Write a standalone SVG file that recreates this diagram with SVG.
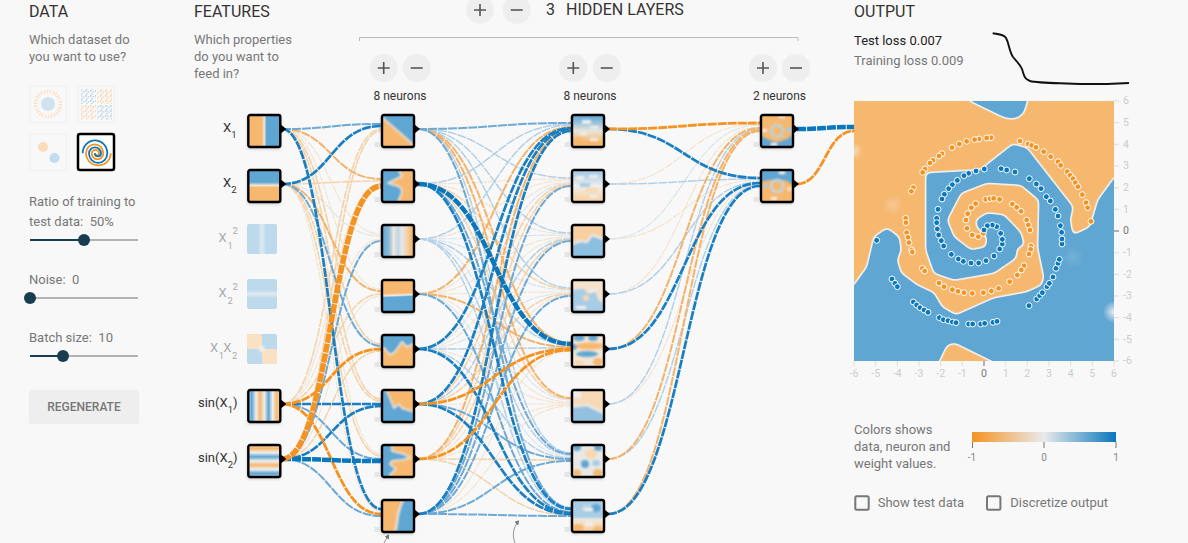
<svg xmlns="http://www.w3.org/2000/svg" width="1188" height="543" viewBox="0 0 1188 543">
<style>
text{font-family:Roboto,"Liberation Sans",sans-serif;white-space:pre}
.h{font-size:16px;fill:#333}
.t{font-size:13px;fill:#777}
.f{font-size:13px;fill:#333}
.fo{font-size:13px;fill:#aaa}
.s{font-size:9.500px}
.n{font-size:12px;fill:#333;text-anchor:middle}
.ax{font-size:10.500px;fill:#ccc}
.axm{font-size:10.500px;fill:#ccc;text-anchor:middle}
.tick{stroke:#ddd;stroke-width:1;fill:none}
.btn{fill:#eee}
.ic{stroke:#555;stroke-width:1.600;fill:none}
.track{stroke:#b3b3b3;stroke-width:2}
.fill{stroke:#183d4e;stroke-width:2}
.thumb{fill:#183d4e}
.cb{fill:none;stroke:#777;stroke-width:2}
#links path{fill:none;stroke-dasharray:9 1}
.b1 path{stroke:#d9e5ee;stroke-width:1.200}
.b2 path{stroke:#b3d0e6;stroke-width:1.500}
.b3 path{stroke:#6da9d4;stroke-width:2}
.b4 path{stroke:#1a7fc1;stroke-width:2.700}
.b5 path{stroke:#0877bd;stroke-width:4.500}
.o1 path{stroke:#f3e4d2;stroke-width:1.200}
.o2 path{stroke:#f4d3ab;stroke-width:1.600}
.o3 path{stroke:#f3b36b;stroke-width:2}
.o4 path{stroke:#f59322;stroke-width:2.800}
.o5 path{stroke:#f59322;stroke-width:5.500}
.box{fill:none;stroke:#000;stroke-width:2.400}
.B{fill:#5fa6d3}.O{fill:#f6b86f}.P{fill:#eeeeea}.LB{fill:#a6cce6}.LO{fill:#f8d8b0}
.bias{fill:#e4e6e6}
.dots circle{r:8.800px;stroke:#fff;stroke-width:3}
.bl circle{fill:#0877bd}
.or circle{fill:#f59322}
</style>
<defs>
<filter id="blur1" x="-20%" y="-20%" width="140%" height="140%"><feGaussianBlur stdDeviation="1.300"/></filter>
<filter id="shadow" x="-20%" y="-20%" width="140%" height="140%"><feGaussianBlur stdDeviation="1.500"/></filter>
<filter id="hm" filterUnits="userSpaceOnUse" x="835" y="80" width="300" height="305" color-interpolation-filters="sRGB">
<feGaussianBlur in="SourceAlpha" stdDeviation="2.600" result="a"/>
<feComponentTransfer in="a" result="core"><feFuncA type="linear" slope="7" intercept="-3.500"/></feComponentTransfer>
<feComponentTransfer in="a" result="halo"><feFuncA type="linear" slope="5" intercept="-1.100"/></feComponentTransfer>
<feFlood flood-color="#eef0ee"/><feComposite in2="halo" operator="in" result="h"/>
<feFlood flood-color="#5fa6d3"/><feComposite in2="core" operator="in" result="c"/>
<feMerge><feMergeNode in="h"/><feMergeNode in="c"/></feMerge>
</filter>
<clipPath id="nc"><rect width="32" height="32" rx="2"/></clipPath>
<clipPath id="hc"><rect x="854" y="101" width="260" height="260"/></clipPath>
<radialGradient id="spot"><stop offset="0" stop-color="#f4f2ee" stop-opacity=".95"/><stop offset="1" stop-color="#f4f2ee" stop-opacity="0"/></radialGradient>
<linearGradient id="gx1"><stop offset=".42" stop-color="#f6b86f"/><stop offset=".5" stop-color="#f0e6d8"/><stop offset=".57" stop-color="#5fa6d3"/></linearGradient>
<linearGradient id="gx2" x2="0" y2="1"><stop offset=".38" stop-color="#5fa6d3"/><stop offset=".48" stop-color="#f0e6d8"/><stop offset=".55" stop-color="#f6b86f"/></linearGradient>
<linearGradient id="gx1s"><stop offset=".36" stop-color="#bdd9ec"/><stop offset=".5" stop-color="#e0ebf2"/><stop offset=".64" stop-color="#bdd9ec"/></linearGradient>
<linearGradient id="gx2s" x2="0" y2="1"><stop offset=".36" stop-color="#bdd9ec"/><stop offset=".5" stop-color="#e0ebf2"/><stop offset=".64" stop-color="#bdd9ec"/></linearGradient>
<linearGradient id="gs1"><stop offset="0" stop-color="#bcd6e8"/><stop offset=".11" stop-color="#5fa6d3"/><stop offset=".24" stop-color="#eee"/><stop offset=".37" stop-color="#f6b86f"/><stop offset=".5" stop-color="#eee"/><stop offset=".63" stop-color="#5fa6d3"/><stop offset=".76" stop-color="#eee"/><stop offset=".89" stop-color="#f6b86f"/><stop offset="1" stop-color="#f7d8b4"/></linearGradient>
<linearGradient id="gs2" x2="0" y2="1"><stop offset="0" stop-color="#f7d8b4"/><stop offset=".11" stop-color="#f6b86f"/><stop offset=".24" stop-color="#eee"/><stop offset=".37" stop-color="#5fa6d3"/><stop offset=".5" stop-color="#eee"/><stop offset=".63" stop-color="#f6b86f"/><stop offset=".76" stop-color="#eee"/><stop offset=".89" stop-color="#5fa6d3"/><stop offset="1" stop-color="#bcd6e8"/></linearGradient>
<linearGradient id="gh3"><stop offset="0" stop-color="#64a6d3"/><stop offset=".22" stop-color="#8bbbdc"/><stop offset=".36" stop-color="#f3e6d5"/><stop offset=".5" stop-color="#bcd6e8"/><stop offset=".62" stop-color="#e6e8e8"/><stop offset=".78" stop-color="#f2d3ad"/><stop offset=".92" stop-color="#f6b86f"/></linearGradient>
<linearGradient id="gh4" x2="0.040" y2="1"><stop offset=".42" stop-color="#f6b86f"/><stop offset=".5" stop-color="#f0ebe4"/><stop offset=".55" stop-color="#5fa6d3"/></linearGradient>
<linearGradient id="gBO" x2="0" y2="1"><stop offset=".1" stop-color="#6fb0da"/><stop offset=".5" stop-color="#e8e4dc"/><stop offset=".85" stop-color="#f6b86f"/></linearGradient>
<linearGradient id="gBOp" x2="0" y2="1"><stop offset=".1" stop-color="#a9cde6"/><stop offset=".5" stop-color="#eee"/><stop offset=".9" stop-color="#f8d3a6"/></linearGradient>
<linearGradient id="leg"><stop offset="0" stop-color="#f59322"/><stop offset=".5" stop-color="#e8eaeb"/><stop offset="1" stop-color="#0877bd"/></linearGradient>
<pattern id="pO" width="5" height="5" patternUnits="userSpaceOnUse"><rect width="1.600" height="1.600" fill="#f8d3a8"/><rect x="2.600" y="1.200" width="1.600" height="1.600" fill="#f8d9b5"/><rect x="1" y="3" width="1.600" height="1.600" fill="#f8d9b5"/></pattern>
<pattern id="pB" width="5" height="5" patternUnits="userSpaceOnUse"><rect width="1.700" height="1.700" fill="#b9d6ea"/><rect x="2.600" y="1" width="1.700" height="1.700" fill="#c4dcee"/><rect x="1" y="3" width="1.700" height="1.700" fill="#c4dcee"/></pattern>
<marker id="ah" markerWidth="6" markerHeight="6" refX="4" refY="3" orient="auto"><path d="M0 0L5 3L0 6Z" fill="#777"/></marker>
</defs>
<rect width="1188" height="543" fill="#f8f8f8"/>

<g id="data-panel">
<text class="h" x="29" y="17">DATA</text>
<text class="t" x="29" y="44">Which dataset do</text>
<text class="t" x="29" y="61">you want to use?</text>
<g id="ds-circle"><rect x="30" y="86" width="36.500" height="36.500" rx="2" fill="none" stroke="#f1f1f1" stroke-width="1.500"/><circle cx="48" cy="104" r="12.500" fill="none" stroke="#fae3c9" stroke-width="3.500" stroke-dasharray="1.600 1.400"/><circle cx="48" cy="104" r="7" fill="#cfe2f0"/></g>
<g id="ds-xor"><rect x="78" y="86" width="36.500" height="36.500" rx="2" fill="none" stroke="#f1f1f1" stroke-width="1.500"/><rect x="81" y="89" width="15" height="15" fill="url(#pB)"/><rect x="97" y="89" width="15" height="15" fill="url(#pO)"/><rect x="81" y="105" width="15" height="15" fill="url(#pO)"/><rect x="97" y="105" width="15" height="15" fill="url(#pB)"/></g>
<g id="ds-gauss"><rect x="30" y="134" width="36.500" height="36.500" rx="2" fill="none" stroke="#f1f1f1" stroke-width="1.500"/><circle cx="43" cy="147" r="5" fill="#f9dcbc"/><circle cx="54.500" cy="158" r="5" fill="#c2dbed"/></g>
<g id="ds-spiral"><rect x="78" y="134" width="36" height="36" rx="2" fill="#fff" stroke="#000" stroke-width="2.500"/><path d="M110.700 153.300A12.350 12 0 0 1 86 153.300A8.650 9 0 0 1 103.300 153.300A5.800 6 0 0 1 91.700 153.300A3.650 3.500 0 0 1 99 153.300A2.250 2.200 0 0 1 94.500 153.300" fill="none" stroke="#f59322" stroke-width="1.800"/><path d="M82.700 153.300A12.300 13 0 0 1 107.300 153.300A9.150 9.500 0 0 1 89 153.300A6 6 0 0 1 101 153.300A3 3 0 0 1 95 153.300" fill="none" stroke="#0877bd" stroke-width="1.800"/></g>
<text class="t" x="29" y="206">Ratio of training to</text>
<text class="t" x="29" y="226">test data:  50%</text>
<line class="track" x1="30" y1="240" x2="138" y2="240"/><line class="fill" x1="30" y1="240" x2="84" y2="240"/><circle class="thumb" cx="84" cy="240" r="6"/>
<text class="t" x="29" y="284">Noise:  0</text>
<line class="track" x1="30" y1="298" x2="138" y2="298"/><circle class="thumb" cx="30" cy="298" r="6"/>
<text class="t" x="29" y="342">Batch size:  10</text>
<line class="track" x1="30" y1="356" x2="138" y2="356"/><line class="fill" x1="30" y1="356" x2="63" y2="356"/><circle class="thumb" cx="63" cy="356" r="6"/>
<g id="regenerate"><rect x="29" y="390" width="110" height="34" rx="2" fill="#eee"/><text x="84" y="411" text-anchor="middle" font-size="12" font-weight="500" fill="#777">REGENERATE</text></g>
</g>

<g id="features-panel">
<text class="h" x="194" y="17">FEATURES</text>
<text class="t" x="194" y="44">Which properties</text>
<text class="t" x="194" y="61">do you want to</text>
<text class="t" x="194" y="78">feed in?</text>
</g>

<g id="hidden-controls">
<circle class="btn" cx="480" cy="10" r="14"/><path class="ic" d="M474 10H486M480 4V16"/>
<circle class="btn" cx="516.700" cy="10" r="14"/><path class="ic" d="M510.700 10H522.700"/>
<text x="546" y="15" font-size="16" fill="#333">3</text>
<text class="h" x="566" y="15">HIDDEN LAYERS</text>
<path d="M359.500 41V37.500H798V41" fill="none" stroke="#bbb" stroke-width="1"/>
<circle class="btn" cx="383.700" cy="68" r="14"/><path class="ic" d="M377.700 68H389.700M383.700 62V74"/>
<circle class="btn" cx="416.700" cy="68" r="14"/><path class="ic" d="M410.700 68H422.700"/>
<circle class="btn" cx="573.300" cy="68" r="14"/><path class="ic" d="M567.300 68H579.300M573.300 62V74"/>
<circle class="btn" cx="606.700" cy="68" r="14"/><path class="ic" d="M600.700 68H612.700"/>
<circle class="btn" cx="763" cy="68" r="14"/><path class="ic" d="M757 68H769M763 62V74"/>
<circle class="btn" cx="796" cy="68" r="14"/><path class="ic" d="M790 68H802"/>
<text class="n" x="400" y="100">8 neurons</text>
<text class="n" x="590" y="100">8 neurons</text>
<text class="n" x="779.500" y="100">2 neurons</text>
</g>

<g id="links">
<g class="o1">
<path d="M282 129C331 129 331 234 381 234"/><path d="M282 129C331 129 331 289 381 289"/><path d="M282 129C331 129 331 454 381 454"/><path d="M282 184C331 184 331 511 381 511"/><path d="M282 404C331 404 331 184 381 184"/><path d="M282 404C331 404 331 239 381 239"/><path d="M282 459C331 459 331 296 381 296"/>
<path d="M418 184C494 184 494 179 571 179"/><path d="M418 239C494 239 494 180 571 180"/><path d="M418 294C494 294 494 182 571 182"/><path d="M418 184C494 184 494 234 571 234"/><path d="M418 294C494 294 494 237 571 237"/><path d="M418 349C494 349 494 238 571 238"/><path d="M418 294C494 294 494 292 571 292"/><path d="M418 459C494 459 494 295 571 295"/><path d="M418 514C494 514 494 351 571 351"/><path d="M418 294C494 294 494 402 571 402"/><path d="M418 349C494 349 494 403 571 403"/><path d="M418 404C494 404 494 404 571 404"/><path d="M418 459C494 459 494 405 571 405"/><path d="M418 514C494 514 494 406 571 406"/>
<path d="M608 184C684 184 684 124 760 124"/><path d="M608 294C684 294 684 127 760 127"/><path d="M608 239C684 239 684 180 760 180"/><path d="M608 404C684 404 684 184 760 184"/>
</g>
<g class="b1">
<path d="M282 184C331 184 331 236 381 236"/>
<path d="M418 349C494 349 494 183 571 183"/><path d="M418 239C494 239 494 235 571 235"/><path d="M418 239C494 239 494 290 571 290"/><path d="M418 349C494 349 494 293 571 293"/><path d="M418 239C494 239 494 400 571 400"/><path d="M418 294C494 294 494 457 571 457"/>
<path d="M608 239C684 239 684 125 760 125"/>
</g>
<g class="o2">
<path d="M282 129C331 129 331 344 381 344"/><path d="M282 129C331 129 331 399 381 399"/><path d="M282 184C331 184 331 181 381 181"/><path d="M282 184C331 184 331 401 381 401"/><path d="M282 184C331 184 331 456 381 456"/><path d="M282 404C331 404 331 129 381 129"/><path d="M282 404C331 404 331 294 381 294"/><path d="M282 459C331 459 331 131 381 131"/><path d="M282 459C331 459 331 351 381 351"/>
<path d="M418 404C494 404 494 184 571 184"/><path d="M418 459C494 459 494 185 571 185"/><path d="M418 459C494 459 494 240 571 240"/><path d="M418 184C494 184 494 289 571 289"/><path d="M418 404C494 404 494 294 571 294"/><path d="M418 184C494 184 494 399 571 399"/><path d="M418 459C494 459 494 460 571 460"/><path d="M418 459C494 459 494 515 571 515"/>
</g>
<g class="b2">
<path d="M418 184C494 184 494 124 571 124"/><path d="M418 239C494 239 494 125 571 125"/><path d="M418 129C494 129 494 178 571 178"/><path d="M418 129C494 129 494 233 571 233"/><path d="M418 404C494 404 494 239 571 239"/><path d="M418 129C494 129 494 288 571 288"/><path d="M418 239C494 239 494 345 571 345"/><path d="M418 349C494 349 494 348 571 348"/><path d="M418 129C494 129 494 453 571 453"/><path d="M418 239C494 239 494 455 571 455"/><path d="M418 349C494 349 494 458 571 458"/><path d="M418 239C494 239 494 510 571 510"/>
<path d="M608 404C684 404 684 129 760 129"/><path d="M608 184C684 184 684 179 760 179"/><path d="M608 294C684 294 684 182 760 182"/><path d="M608 459C684 459 684 185 760 185"/>
</g>
<g class="o3">
<path d="M282 129C331 129 331 179 381 179"/><path d="M282 184C331 184 331 291 381 291"/>
<path d="M418 294C494 294 494 127 571 127"/><path d="M418 459C494 459 494 130 571 130"/><path d="M418 129C494 129 494 343 571 343"/><path d="M418 294C494 294 494 347 571 347"/><path d="M418 129C494 129 494 398 571 398"/>
<path d="M608 349C684 349 684 128 760 128"/><path d="M608 459C684 459 684 130 760 130"/><path d="M608 514C684 514 684 131 760 131"/>
</g>
<g class="b3">
<path d="M282 129C331 129 331 124 381 124"/><path d="M282 184C331 184 331 346 381 346"/><path d="M282 404C331 404 331 459 381 459"/><path d="M282 459C331 459 331 241 381 241"/><path d="M282 459C331 459 331 516 381 516"/>
<path d="M418 129C494 129 494 123 571 123"/><path d="M418 514C494 514 494 186 571 186"/><path d="M418 514C494 514 494 241 571 241"/><path d="M418 514C494 514 494 296 571 296"/><path d="M418 184C494 184 494 454 571 454"/><path d="M418 404C494 404 494 459 571 459"/><path d="M418 514C494 514 494 461 571 461"/><path d="M418 129C494 129 494 508 571 508"/><path d="M418 294C494 294 494 512 571 512"/><path d="M418 514C494 514 494 516 571 516"/>
</g>
<g class="b4">
<path d="M282 129C331 129 331 509 381 509"/><path d="M282 184C331 184 331 126 381 126"/><path d="M282 404C331 404 331 404 381 404"/><path d="M282 459C331 459 331 406 381 406"/>
<path d="M418 349C494 349 494 128 571 128"/><path d="M418 404C494 404 494 129 571 129"/><path d="M418 514C494 514 494 131 571 131"/><path d="M418 184C494 184 494 509 571 509"/><path d="M418 349C494 349 494 513 571 513"/><path d="M418 404C494 404 494 514 571 514"/>
<path d="M608 129C684 129 684 178 760 178"/><path d="M608 349C684 349 684 183 760 183"/><path d="M608 514C684 514 684 186 760 186"/>
</g>
<g class="o4">
<path d="M282 404C331 404 331 349 381 349"/><path d="M282 404C331 404 331 514 381 514"/>
<path d="M418 404C494 404 494 349 571 349"/><path d="M418 459C494 459 494 350 571 350"/>
<path d="M608 129C684 129 684 123 760 123"/>
<path d="M797 184C825 184 825 131 854 131"/>
</g>
<g class="b5">
<path d="M282 459C331 459 331 461 381 461"/>
<path d="M418 184C494 184 494 344 571 344"/>
<path d="M797 129C825 129 825 127 854 127"/>
</g>
<g class="o5"><path d="M282 459C331 459 331 186 381 186"/></g>
</g>

<g id="x1" transform="translate(248.300 115)"><rect x="-1" y="1" width="33" height="33" fill="#0003" filter="url(#shadow)"/><rect width="32" height="32" rx="2" fill="url(#gx1)"/><rect class="box" width="32" height="32" rx="2"/><path d="M32.500 9.500L38 14L32.500 18.500Z"/></g>
<text class="f" x="223" y="132">X<tspan class="s" dy="6">1</tspan></text>
<g id="x2" transform="translate(248.300 170)"><rect x="-1" y="1" width="33" height="33" fill="#0003" filter="url(#shadow)"/><rect width="32" height="32" rx="2" fill="url(#gx2)"/><rect class="box" width="32" height="32" rx="2"/><path d="M32.500 9.500L38 14L32.500 18.500Z"/></g>
<text class="f" x="223" y="187">X<tspan class="s" dy="6">2</tspan></text>
<g id="x1sq"><rect x="247" y="224" width="30" height="30" rx="2" fill="url(#gx1s)"/><text class="fo" x="218.500" y="242">X</text><text class="fo s" x="227.500" y="248.500">1</text><text class="fo s" x="232.500" y="234">2</text></g>
<g id="x2sq"><rect x="247" y="279" width="30" height="30" rx="2" fill="url(#gx2s)"/><text class="fo" x="218.500" y="297.300">X</text><text class="fo s" x="227.500" y="303.500">2</text><text class="fo s" x="232.500" y="290">2</text></g>
<g id="x1x2"><rect x="247" y="334" width="30" height="30" rx="2" fill="#bdd9ec"/><rect x="247" y="334" width="15" height="15" rx="2" fill="#fbe1c4"/><rect x="262" y="349" width="15" height="15" rx="2" fill="#fbe1c4"/><circle cx="262" cy="349" r="3" fill="#f2efe9" filter="url(#blur1)"/><text class="fo" x="210" y="352.300">X</text><text class="fo s" x="218.700" y="358.500">1</text><text class="fo" x="223.300" y="352.300">X</text><text class="fo s" x="232" y="358.500">2</text></g>
<g id="sinx1" transform="translate(248.300 390)"><rect x="-1" y="1" width="33" height="33" fill="#0003" filter="url(#shadow)"/><rect width="32" height="32" rx="2" fill="url(#gs1)"/><rect class="box" width="32" height="32" rx="2"/><path d="M32.500 9.500L38 14L32.500 18.500Z"/></g>
<text class="f" x="198" y="407">sin(X<tspan class="s" dy="6">1</tspan><tspan dy="-6">)</tspan></text>
<g id="sinx2" transform="translate(248.300 445)"><rect x="-1" y="1" width="33" height="33" fill="#0003" filter="url(#shadow)"/><rect width="32" height="32" rx="2" fill="url(#gs2)"/><rect class="box" width="32" height="32" rx="2"/><path d="M32.500 9.500L38 14L32.500 18.500Z"/></g>
<text class="f" x="198" y="462">sin(X<tspan class="s" dy="6">2</tspan><tspan dy="-6">)</tspan></text>

<g id="h1-1" transform="translate(382 115)"><rect class="bias" x="-7.500" y="27" width="5" height="5"/><rect x="-1" y="1" width="33" height="33" fill="#0003" filter="url(#shadow)"/><g clip-path="url(#nc)"><rect class="O" width="32" height="32"/><path class="B" d="M-2 -2H34V32L2 4Z" stroke="#f1e9de" stroke-width="1.500" filter="url(#blur1)"/></g><rect class="box" width="32" height="32" rx="2"/><path d="M32.500 9.500L38 14L32.500 18.500Z"/></g>
<g id="h1-2" transform="translate(382 170)"><rect class="bias" x="-7.500" y="27" width="5" height="5"/><rect x="-1" y="1" width="33" height="33" fill="#0003" filter="url(#shadow)"/><g clip-path="url(#nc)"><rect class="B" width="32" height="32"/><path class="O" d="M15 -2L20 6L12 10L6 13L18 17L20 22L15 34H34V-2Z" stroke="#f1e9de" stroke-width="1.500" filter="url(#blur1)"/></g><rect class="box" width="32" height="32" rx="2"/><path d="M32.500 9.500L38 14L32.500 18.500Z"/></g>
<g id="h1-3" transform="translate(382 225)"><rect class="bias" x="-7.500" y="27" width="5" height="5"/><rect x="-1" y="1" width="33" height="33" fill="#0003" filter="url(#shadow)"/><g clip-path="url(#nc)"><rect width="32" height="32" fill="url(#gh3)"/></g><rect class="box" width="32" height="32" rx="2"/><path d="M32.500 9.500L38 14L32.500 18.500Z"/></g>
<g id="h1-4" transform="translate(382 280)"><rect class="bias" x="-7.500" y="27" width="5" height="5"/><rect x="-1" y="1" width="33" height="33" fill="#0003" filter="url(#shadow)"/><g clip-path="url(#nc)"><rect width="32" height="32" fill="url(#gh4)"/></g><rect class="box" width="32" height="32" rx="2"/><path d="M32.500 9.500L38 14L32.500 18.500Z"/></g>
<g id="h1-5" transform="translate(382 335)"><rect class="bias" x="-7.500" y="27" width="5" height="5"/><rect x="-1" y="1" width="33" height="33" fill="#0003" filter="url(#shadow)"/><g clip-path="url(#nc)"><rect class="O" width="32" height="32"/><path class="B" d="M-2 -2H34V8L25 12L20 7L13 17L8 20L2 13L-2 13Z" stroke="#f1e9de" stroke-width="1.500" filter="url(#blur1)"/></g><rect class="box" width="32" height="32" rx="2"/><path d="M32.500 9.500L38 14L32.500 18.500Z"/></g>
<g id="h1-6" transform="translate(382 390)"><rect class="bias" x="-7.500" y="27" width="5" height="5"/><rect x="-1" y="1" width="33" height="33" fill="#0003" filter="url(#shadow)"/><g clip-path="url(#nc)"><rect class="O" width="32" height="32"/><path class="B" d="M-2 -2H3L8 8L12 18L17 14L20 18L26 20L34 22V34H-2Z" stroke="#f1e9de" stroke-width="1.500" filter="url(#blur1)"/></g><rect class="box" width="32" height="32" rx="2"/><path d="M32.500 9.500L38 14L32.500 18.500Z"/></g>
<g id="h1-7" transform="translate(382 445)"><rect class="bias" x="-7.500" y="27" width="5" height="5"/><rect x="-1" y="1" width="33" height="33" fill="#0003" filter="url(#shadow)"/><g clip-path="url(#nc)"><rect class="O" width="32" height="32"/><path class="B" d="M-2 -2H10V6L22 9L28 13L20 15L10 16L8 19L14 24L8 30L10 34H-2Z" stroke="#f1e9de" stroke-width="1.500" filter="url(#blur1)"/></g><rect class="box" width="32" height="32" rx="2"/><path d="M32.500 9.500L38 14L32.500 18.500Z"/></g>
<g id="h1-8" transform="translate(382 500)"><rect class="bias" x="-7.500" y="27" width="5" height="5"/><rect x="-1" y="1" width="33" height="33" fill="#0003" filter="url(#shadow)"/><g clip-path="url(#nc)"><rect class="B" width="32" height="32"/><path class="O" d="M-2 -2H22L18 8L16 16L15 24L13 34H-2Z" stroke="#f1e9de" stroke-width="2" filter="url(#blur1)"/></g><rect class="box" width="32" height="32" rx="2"/><path d="M32.500 9.500L38 14L32.500 18.500Z"/></g>

<g id="h2-1" transform="translate(572 115)"><rect class="bias" x="-7.500" y="27" width="5" height="5"/><rect x="-1" y="1" width="33" height="33" fill="#0003" filter="url(#shadow)"/><g clip-path="url(#nc)"><rect width="32" height="32" fill="url(#gBO)"/><g filter="url(#blur1)"><rect class="P" x="10" y="5" width="9" height="4"/><rect class="P" x="18" y="11" width="8" height="3"/><rect class="P" x="8" y="17" width="7" height="3"/><rect class="P" x="18" y="23" width="8" height="3"/><ellipse class="O" cx="6" cy="26" rx="5" ry="4"/></g></g><rect class="box" width="32" height="32" rx="2"/><path d="M32.500 9.500L38 14L32.500 18.500Z"/></g>
<g id="h2-2" transform="translate(572 170)"><rect class="bias" x="-7.500" y="27" width="5" height="5"/><rect x="-1" y="1" width="33" height="33" fill="#0003" filter="url(#shadow)"/><g clip-path="url(#nc)"><rect width="32" height="32" fill="url(#gBOp)"/><g filter="url(#blur1)"><rect class="P" x="4" y="6" width="8" height="4"/><rect class="P" x="17" y="5" width="9" height="3"/><rect class="LB" x="8" y="13" width="10" height="4"/><rect class="LO" x="14" y="18" width="12" height="4"/><rect class="P" x="18" y="25" width="8" height="3"/></g></g><rect class="box" width="32" height="32" rx="2"/><path d="M32.500 9.500L38 14L32.500 18.500Z"/></g>
<g id="h2-3" transform="translate(572 225)"><rect class="bias" x="-7.500" y="27" width="5" height="5"/><rect x="-1" y="1" width="33" height="33" fill="#0003" filter="url(#shadow)"/><g clip-path="url(#nc)"><rect width="32" height="32" fill="#f7cfa0"/><path d="M-2 20L8 16L15 17L20 10L34 15V34H-2Z" fill="#8dbfe0" stroke="#eee" stroke-width="2" filter="url(#blur1)"/></g><rect class="box" width="32" height="32" rx="2"/><path d="M32.500 9.500L38 14L32.500 18.500Z"/></g>
<g id="h2-4" transform="translate(572 280)"><rect class="bias" x="-7.500" y="27" width="5" height="5"/><rect x="-1" y="1" width="33" height="33" fill="#0003" filter="url(#shadow)"/><g clip-path="url(#nc)"><rect width="32" height="32" fill="#f4e2cc"/><g filter="url(#blur1)"><path class="LB" d="M-2 10L12 9L16 14L24 12L26 20L34 24V34H-2Z"/><ellipse class="LO" cx="14" cy="18" rx="3" ry="3"/><rect class="P" x="17" y="9" width="8" height="3"/><rect class="P" x="4" y="26" width="10" height="3"/></g></g><rect class="box" width="32" height="32" rx="2"/><path d="M32.500 9.500L38 14L32.500 18.500Z"/></g>
<g id="h2-5" transform="translate(572 335)"><rect class="bias" x="-7.500" y="27" width="5" height="5"/><rect x="-1" y="1" width="33" height="33" fill="#0003" filter="url(#shadow)"/><g clip-path="url(#nc)"><rect width="32" height="32" fill="#f3e6d4"/><g filter="url(#blur1)"><ellipse class="B" cx="7" cy="3" rx="6" ry="3"/><ellipse class="B" cx="21" cy="3" rx="5" ry="3"/><ellipse class="O" cx="18" cy="11" rx="14" ry="3.500"/><ellipse class="B" cx="15" cy="19" rx="11" ry="3"/><ellipse class="B" cx="2" cy="12" rx="3" ry="3"/><ellipse class="O" cx="26" cy="27" rx="5" ry="4"/><ellipse class="LO" cx="7" cy="28" rx="5" ry="3"/></g></g><rect class="box" width="32" height="32" rx="2"/><path d="M32.500 9.500L38 14L32.500 18.500Z"/></g>
<g id="h2-6" transform="translate(572 390)"><rect class="bias" x="-7.500" y="27" width="5" height="5"/><rect x="-1" y="1" width="33" height="33" fill="#0003" filter="url(#shadow)"/><g clip-path="url(#nc)"><rect width="32" height="32" fill="#f7d9b6"/><rect class="P" width="9" height="8" filter="url(#blur1)"/><path d="M-2 17L15 15L34 24V34H-2Z" fill="#94c0df" stroke="#eee" stroke-width="2" filter="url(#blur1)"/></g><rect class="box" width="32" height="32" rx="2"/><path d="M32.500 9.500L38 14L32.500 18.500Z"/></g>
<g id="h2-7" transform="translate(572 445)"><rect class="bias" x="-7.500" y="27" width="5" height="5"/><rect x="-1" y="1" width="33" height="33" fill="#0003" filter="url(#shadow)"/><g clip-path="url(#nc)"><rect width="32" height="32" fill="#e8e8e6"/><g filter="url(#blur1)"><ellipse class="LO" cx="19" cy="9" rx="6" ry="5"/><ellipse class="B" cx="5" cy="2" rx="4" ry="4"/><ellipse class="B" cx="26" cy="3" rx="4" ry="3"/><ellipse class="B" cx="13" cy="19" rx="4" ry="4"/><ellipse class="LB" cx="24" cy="18" rx="4" ry="3"/><ellipse class="O" cx="5" cy="28" rx="4" ry="3.500"/><ellipse class="O" cx="26" cy="28" rx="5" ry="4"/></g></g><rect class="box" width="32" height="32" rx="2"/><path d="M32.500 9.500L38 14L32.500 18.500Z"/></g>
<g id="h2-8" transform="translate(572 500)"><rect class="bias" x="-7.500" y="27" width="5" height="5"/><rect x="-1" y="1" width="33" height="33" fill="#0003" filter="url(#shadow)"/><g clip-path="url(#nc)"><rect width="32" height="32" fill="url(#gBOp)"/><g filter="url(#blur1)"><rect class="LB" x="0" y="10" width="32" height="8"/><ellipse class="LB" cx="6" cy="6" rx="5" ry="4"/><ellipse class="B" cx="24" cy="8" rx="5" ry="4"/><rect class="P" x="12" y="8" width="9" height="3"/><ellipse class="O" cx="6" cy="28" rx="6" ry="4"/><ellipse class="O" cx="26" cy="29" rx="5" ry="3"/><rect class="P" x="13" y="22" width="8" height="4"/></g></g><rect class="box" width="32" height="32" rx="2"/><path d="M32.500 9.500L38 14L32.500 18.500Z"/></g>

<g id="h3-1" transform="translate(761 115)"><rect class="bias" x="-7.500" y="27" width="5" height="5"/><rect x="-1" y="1" width="33" height="33" fill="#0003" filter="url(#shadow)"/><g clip-path="url(#nc)"><rect width="32" height="32" class="O"/><g filter="url(#blur1)"><path class="B" d="M-2 20L6 24L14 27L18 27L26 24L34 18V34H-2Z"/><circle cx="16" cy="16" r="6" fill="none" stroke="#bcd3e2" stroke-width="2.500"/><rect class="P" x="18" y="0" width="6" height="3"/><rect class="P" x="10" y="28" width="6" height="3"/><rect class="P" x="1" y="14" width="5" height="3"/><rect class="LB" x="26" y="13" width="6" height="4"/></g></g><rect class="box" width="32" height="32" rx="2"/><path d="M32.500 9.500L38 14L32.500 18.500Z"/></g>
<g id="h3-2" transform="translate(761 170)"><rect class="bias" x="-7.500" y="27" width="5" height="5"/><rect x="-1" y="1" width="33" height="33" fill="#0003" filter="url(#shadow)"/><g clip-path="url(#nc)"><rect width="32" height="32" class="O"/><g filter="url(#blur1)"><path class="B" d="M-2 -2H34V16L24 10H8L-2 12Z"/><circle cx="16" cy="16" r="6" fill="none" stroke="#c2d6e3" stroke-width="2.500"/><rect class="P" x="18" y="1" width="6" height="3"/><rect class="P" x="10" y="27" width="6" height="3"/><rect class="LB" x="2" y="14" width="5" height="3"/><rect class="LO" x="26" y="17" width="6" height="4"/></g></g><rect class="box" width="32" height="32" rx="2"/><path d="M32.500 9.500L38 14L32.500 18.500Z"/></g>

<g id="output-panel">
<text class="h" x="854" y="17">OUTPUT</text>
<text x="854" y="45" font-size="13" fill="#222">Test loss 0.007</text>
<text class="t" x="854" y="65">Training loss 0.009</text>
<path id="loss" d="M992.700 33.300C1000 34.500 1004 34.500 1006 38C1009 43 1009 51 1013 57C1017 62 1020 64 1022 69C1024 75 1024 79 1030 81C1036 82.500 1050 83 1060 83.300L1080 84L1107 84L1129 83" fill="none" stroke="#111" stroke-width="1.900"/>
<g id="heatmap" clip-path="url(#hc)">
<rect x="854" y="101" width="260" height="260" fill="#f6b86f"/>
<path filter="url(#hm)" fill="#5fa6d3" fill-rule="evenodd" d="M845 293L854 285L867 267L874 237L887 228L899 237L901 250L897 260L901 273L917 285L934 293L942 307L956 315L994 298L1027 292L1042 285L1044 277L1038 248L1039 200L1021 185L987 183L961 193L947 220L954 237L971 250L986 247L987 237L977 227L976 220L987 213L1004 215L1021 233L1024 245L1017 248L1016 258L994 273L954 280L934 273L926 250L926 173L980 170L1013 144L1027 148L1073 207L1070 220L1073 235L1090 227L1098 200L1114 178L1126 170V376H845ZM932 376L947 345L955 343L1022 376ZM965 88L970 101L1003 117Q1017 122 1024 112L1031 88Z"/>
<circle cx="1114" cy="312" r="11" fill="url(#spot)"/><circle cx="893" cy="205" r="10" fill="url(#spot)" opacity=".3"/><circle cx="1073" cy="257" r="11" fill="url(#spot)" opacity=".15"/><circle cx="854" cy="151" r="9" fill="url(#spot)" opacity=".6"/>
</g>
<g class="dots" transform="translate(854 170) scale(.33333)">
<g class="or">
<circle cx="411" cy="-97"/><circle cx="398" cy="-96"/><circle cx="375" cy="-93"/><circle cx="362" cy="-91"/><circle cx="338" cy="-86"/><circle cx="316" cy="-78"/><circle cx="294" cy="-67"/><circle cx="264" cy="-49"/><circle cx="255" cy="-42"/><circle cx="237" cy="-29"/><circle cx="228" cy="-21"/><circle cx="213" cy="-3"/><circle cx="206" cy="7"/><circle cx="178" cy="53"/><circle cx="172" cy="64"/><circle cx="155" cy="145"/><circle cx="156" cy="158"/><circle cx="158" cy="188"/><circle cx="162" cy="202"/><circle cx="165" cy="218"/><circle cx="173" cy="240"/><circle cx="175" cy="246"/><circle cx="205" cy="295"/><circle cx="212" cy="303"/>
<circle cx="498" cy="-87"/><circle cx="522" cy="-78"/><circle cx="533" cy="-74"/><circle cx="546" cy="-68"/><circle cx="569" cy="-55"/><circle cx="590" cy="-40"/><circle cx="612" cy="-25"/><circle cx="620" cy="-14"/><circle cx="640" cy="5"/><circle cx="648" cy="16"/><circle cx="657" cy="26"/><circle cx="664" cy="38"/><circle cx="672" cy="50"/><circle cx="685" cy="74"/><circle cx="696" cy="98"/><circle cx="701" cy="113"/><circle cx="711" cy="154"/>
<circle cx="365" cy="101"/><circle cx="352" cy="113"/><circle cx="341" cy="131"/><circle cx="336" cy="150"/><circle cx="339" cy="175"/><circle cx="355" cy="195"/><circle cx="373" cy="200"/><circle cx="388" cy="190"/>
<circle cx="395" cy="88"/><circle cx="408" cy="86"/><circle cx="419" cy="85"/><circle cx="437" cy="88"/><circle cx="475" cy="102"/><circle cx="488" cy="112"/><circle cx="501" cy="124"/><circle cx="518" cy="150"/><circle cx="523" cy="165"/><circle cx="528" cy="180"/><circle cx="531" cy="228"/><circle cx="530" cy="238"/><circle cx="525" cy="252"/><circle cx="510" cy="287"/><circle cx="502" cy="300"/><circle cx="490" cy="315"/><circle cx="467" cy="335"/><circle cx="434" cy="355"/><circle cx="412" cy="363"/><circle cx="388" cy="368"/><circle cx="355" cy="370"/><circle cx="330" cy="368"/><circle cx="312" cy="364"/><circle cx="295" cy="359"/><circle cx="270" cy="350"/><circle cx="255" cy="339"/>
</g>
<g class="bl">
<circle cx="68" cy="211"/><circle cx="114" cy="327"/><circle cx="123" cy="340"/><circle cx="130" cy="350"/><circle cx="178" cy="396"/><circle cx="188" cy="405"/><circle cx="198" cy="413"/><circle cx="210" cy="420"/><circle cx="222" cy="427"/><circle cx="256" cy="443"/><circle cx="268" cy="449"/><circle cx="282" cy="452"/><circle cx="295" cy="456"/><circle cx="306" cy="458"/><circle cx="344" cy="462"/><circle cx="356" cy="462"/><circle cx="380" cy="462"/><circle cx="392" cy="460"/><circle cx="417" cy="457"/><circle cx="429" cy="454"/><circle cx="525" cy="407"/>
<circle cx="548" cy="387"/><circle cx="557" cy="377"/><circle cx="565" cy="368"/><circle cx="579" cy="350"/><circle cx="586" cy="340"/><circle cx="597" cy="321"/><circle cx="606" cy="295"/><circle cx="612" cy="280"/><circle cx="616" cy="268"/><circle cx="624" cy="222"/><circle cx="624" cy="207"/><circle cx="623" cy="187"/><circle cx="619" cy="167"/><circle cx="612" cy="138"/><circle cx="604" cy="118"/><circle cx="589" cy="93"/><circle cx="577" cy="80"/><circle cx="561" cy="56"/><circle cx="547" cy="42"/><circle cx="526" cy="26"/><circle cx="483" cy="6"/><circle cx="458" cy="0"/><circle cx="441" cy="-4"/>
<circle cx="391" cy="-3"/><circle cx="366" cy="3"/><circle cx="344" cy="10"/><circle cx="330" cy="17"/><circle cx="310" cy="31"/><circle cx="295" cy="44"/><circle cx="284" cy="56"/><circle cx="271" cy="73"/><circle cx="264" cy="87"/><circle cx="252" cy="118"/><circle cx="248" cy="145"/><circle cx="248" cy="158"/><circle cx="250" cy="177"/><circle cx="254" cy="195"/><circle cx="262" cy="212"/><circle cx="269" cy="228"/><circle cx="292" cy="253"/><circle cx="313" cy="267"/><circle cx="328" cy="274"/><circle cx="351" cy="279"/><circle cx="374" cy="279"/><circle cx="396" cy="272"/><circle cx="420" cy="258"/><circle cx="437" cy="237"/><circle cx="445" cy="222"/><circle cx="445" cy="208"/><circle cx="440" cy="190"/><circle cx="428" cy="170"/><circle cx="415" cy="165"/><circle cx="400" cy="167"/><circle cx="390" cy="180"/>
</g>
</g>
<g id="axis-y">
<path class="tick" d="M1114 101H1119M1114 122.700H1119M1114 144.300H1119M1114 166H1119M1114 187.700H1119M1114 209.300H1119M1114 231H1119M1114 252.700H1119M1114 274.300H1119M1114 296H1119M1114 317.700H1119M1114 339.300H1119M1114 361H1119"/>
<path d="M1114 231H1119" stroke="#777" fill="none"/>
<text class="ax" x="1123" y="104">6</text><text class="ax" x="1123" y="126">5</text><text class="ax" x="1123" y="148">4</text><text class="ax" x="1123" y="169">3</text><text class="ax" x="1123" y="191">2</text><text class="ax" x="1123" y="213">1</text><text class="ax" x="1123" y="234" style="fill:#777">0</text><text class="ax" x="1123" y="256">-1</text><text class="ax" x="1123" y="278">-2</text><text class="ax" x="1123" y="299">-3</text><text class="ax" x="1123" y="321">-4</text><text class="ax" x="1123" y="343">-5</text><text class="ax" x="1123" y="364">-6</text>
</g>
<g id="axis-x">
<path class="tick" d="M854 361V366M875.700 361V366M897.300 361V366M919 361V366M940.700 361V366M962.300 361V366M984 361V366M1005.700 361V366M1027.300 361V366M1049 361V366M1070.700 361V366M1092.300 361V366M1114 361V366"/>
<path d="M984 361V366" stroke="#777" fill="none"/>
<text class="axm" x="854" y="377">-6</text><text class="axm" x="875.700" y="377">-5</text><text class="axm" x="897.300" y="377">-4</text><text class="axm" x="919" y="377">-3</text><text class="axm" x="940.700" y="377">-2</text><text class="axm" x="962.300" y="377">-1</text><text class="axm" x="984" y="377" style="fill:#777">0</text><text class="axm" x="1005.700" y="377">1</text><text class="axm" x="1027.300" y="377">2</text><text class="axm" x="1049" y="377">3</text><text class="axm" x="1070.700" y="377">4</text><text class="axm" x="1092.300" y="377">5</text><text class="axm" x="1114" y="377">6</text>
</g>
<g id="legend">
<text class="t" x="854" y="434">Colors shows</text>
<text class="t" x="854" y="451">data, neuron and</text>
<text class="t" x="854" y="468">weight values.</text>
<rect x="972" y="432" width="144" height="10" fill="url(#leg)"/>
<path d="M972.500 442V448M1044 442V448M1116 442V448" stroke="#777" fill="none"/>
<text x="972" y="461" font-size="10" fill="#888" text-anchor="middle">-1</text><text x="1044" y="461" font-size="10" fill="#888" text-anchor="middle">0</text><text x="1116" y="461" font-size="10" fill="#888" text-anchor="middle">1</text>
</g>
<g id="show-test"><rect class="cb" x="855.300" y="496.300" width="13.400" height="13.400" rx="1.500"/><text class="t" x="877.700" y="507">Show test data</text></g>
<g id="discretize"><rect class="cb" x="987" y="496.300" width="13.400" height="13.400" rx="1.500"/><text class="t" x="1010.300" y="507">Discretize output</text></g>
</g>
<g id="callouts" fill="none" stroke="#888" stroke-width=".9">
<path d="M384 543L388.500 535" marker-end="url(#ah)"/>
<path d="M515 543C512 535 513 528 518.500 521" marker-end="url(#ah)"/>
</g>
</svg>
